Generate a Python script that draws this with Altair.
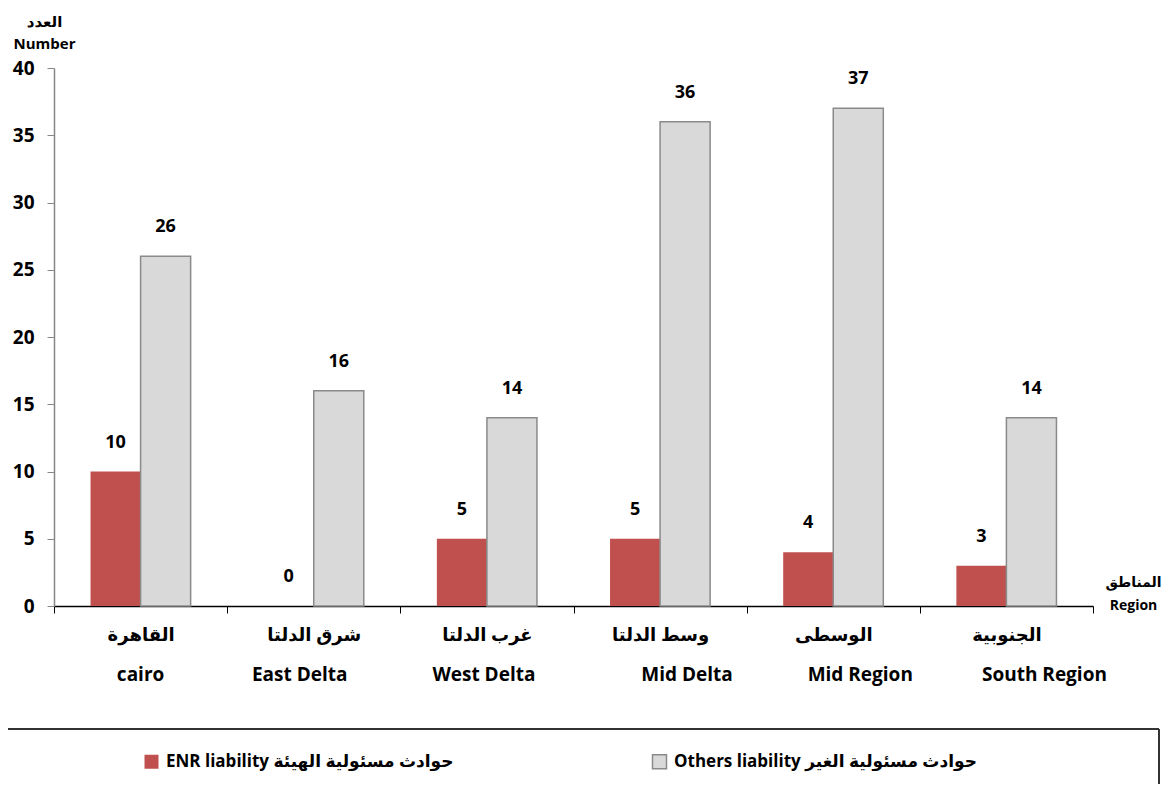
import json
import altair as alt
import pandas as pd

# ---- data ----
regions_en = ["cairo", "East Delta", "West Delta", "Mid Delta", "Mid Region", "South Region"]
regions_ar = ["القاهرة", "شرق الدلتا", "غرب الدلتا", "وسط الدلتا", "الوسطى", "الجنوبية"]
enr_values = [10, 0, 5, 5, 4, 3]
others_values = [26, 16, 14, 36, 37, 14]
series_names = ["ENR liability  حوادث مسئولية الهيئة", "Others liability حوادث مسئولية الغير"]
y_ticks = [0, 5, 10, 15, 20, 25, 30, 35, 40]

# style: horizontal nudge of the English line of each category label (px)
en_nudge = [0, -14, -3, 27, 27, 38]

rows = []
for r, a, b in zip(regions_en, enr_values, others_values):
    rows.append({"Region": r, "Series": series_names[0], "Value": a})
    rows.append({"Region": r, "Series": series_names[1], "Value": b})
df = pd.DataFrame(rows)
one = pd.DataFrame({"k": [0]})

FONT = "Open Sans, DejaVu Sans"
W, H = 1039, 538

ar_expr = "{}[indexof({}, datum.value)]".format(
    json.dumps(regions_ar, ensure_ascii=False), json.dumps(regions_en, ensure_ascii=False)
)
nudge_expr = "{}[indexof({}, datum.Region)]".format(
    json.dumps(en_nudge), json.dumps(regions_en, ensure_ascii=False)
)

x_enc = alt.X(
    "Region:N",
    sort=regions_en,
    scale=alt.Scale(paddingInner=0, paddingOuter=0),
    axis=alt.Axis(
        title=["المناطق", "Region"],
        titleAngle=0,
        titleX=W + 40,
        titleY=-31,
        titleAlign="center",
        titleBaseline="top",
        titleLineHeight=23,
        titleFont=FONT,
        titleFontSize=14,
        titleFontWeight="bold",
        titleColor="black",
        labelExpr=ar_expr,
        labelAngle=0,
        labelFont=FONT,
        labelFontSize=18,
        labelFontWeight="bold",
        labelColor="black",
        labelPadding=22,
        labelBaseline="middle",
        tickBand="extent",
        tickSize=7,
        tickColor="black",
        domainColor="black",
        domainWidth=1.5,
    ),
)
xo_enc = alt.XOffset(
    "Series:N", sort=series_names, scale=alt.Scale(paddingInner=0, paddingOuter=0.73)
)
y_enc = alt.Y(
    "Value:Q",
    scale=alt.Scale(domain=[0, 40], nice=False),
    axis=alt.Axis(
        values=y_ticks,
        grid=False,
        title=["العدد", "Number"],
        titleAngle=0,
        titleX=-10,
        titleY=-42,
        titleAlign="center",
        titleBaseline="alphabetic",
        titleLineHeight=22,
        titleFont=FONT,
        titleFontSize=15,
        titleFontWeight="bold",
        titleColor="black",
        labelFont=FONT,
        labelFontSize=19,
        labelFontWeight="bold",
        labelColor="black",
        labelPadding=13,
        tickSize=7,
        tickColor="#868686",
        domainColor="#868686",
        domainWidth=1.5,
    ),
)

bars = alt.Chart(df).mark_bar(strokeWidth=1.5).encode(
    x=x_enc,
    xOffset=xo_enc,
    y=y_enc,
    color=alt.Color(
        "Series:N",
        sort=series_names,
        scale=alt.Scale(domain=series_names, range=["#C0504D", "#D9D9D9"]),
        legend=alt.Legend(
            title=None,
            orient="none",
            legendX=89,
            legendY=685,
            direction="horizontal",
            symbolType="square",
            symbolSize=196,
            symbolStrokeWidth=1.5,
            labelFont=FONT,
            labelFontSize=17,
            labelFontWeight="bold",
            labelColor="black",
            labelLimit=700,
            labelOffset=6,
            columnPadding=191,
            padding=0,
        ),
    ),
    stroke=alt.Stroke(
        "Series:N",
        sort=series_names,
        scale=alt.Scale(domain=series_names, range=["rgba(0,0,0,0)", "#8A8A8A"]),
    ),
)

labels = alt.Chart(df).mark_text(
    dy=-29, font=FONT, fontSize=18, fontWeight="bold", color="black", baseline="middle"
).encode(x=x_enc, xOffset=xo_enc, y=y_enc, text="Value:Q")

en_labels = (
    alt.Chart(df)
    .transform_filter(alt.datum.Series == series_names[0])
    .mark_text(
        font=FONT,
        fontSize=19,
        fontWeight="bold",
        color="black",
        baseline="middle",
        dx=alt.expr(nudge_expr),
    )
    .encode(x=x_enc, y=alt.value(H + 69), text="Region:N")
)

frame_top = alt.Chart(one).mark_rule(color="#333333", strokeWidth=2).encode(
    x=alt.value(-54), x2=alt.value(W + 66), y=alt.value(H + 123)
)
frame_right = alt.Chart(one).mark_rule(color="#333333", strokeWidth=2).encode(
    x=alt.value(W + 66), y=alt.value(H + 123), y2=alt.value(H + 178)
)

chart = (
    alt.layer(bars, labels, en_labels, frame_top, frame_right)
    .properties(
        width=W,
        height=H,
        autosize=alt.AutoSizeParams(type="none"),
        padding={"left": 46, "top": 60, "right": 74, "bottom": 178},
    )
    .configure_view(stroke=None)
)

chart.save("out.html", embed_options={"renderer": "svg", "actions": False})
